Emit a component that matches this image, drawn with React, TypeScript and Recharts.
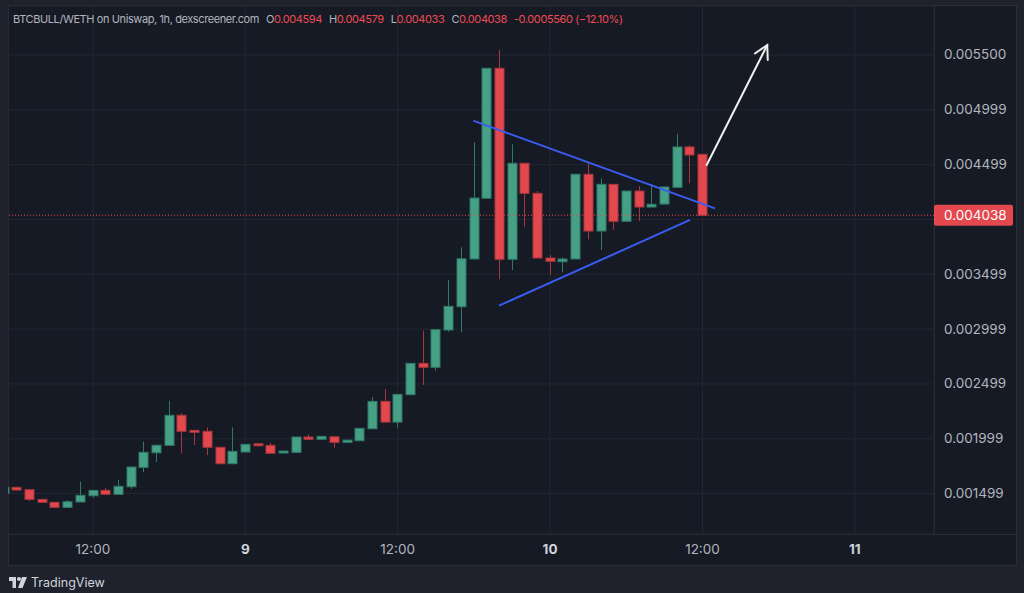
import React from 'react';
import { ComposedChart, Bar, XAxis, YAxis, CartesianGrid, ReferenceLine } from 'recharts';

// hour index, 0 = 06:00 on the 8th
const hours = [
  -1, 0, 1, 2, 3, 4, 5, 6, 7, 8, 9, 10, 11, 12, 13, 14, 15, 16, 17, 18, 19, 20, 21, 22, 23, 24, 25, 26, 27,
  28, 29, 30, 31, 32, 33, 34, 35, 36, 37, 38, 39, 40, 41, 42, 43, 44, 45, 46, 47, 48, 49, 50, 51, 52, 53, 54,
];
const opens = [
  0.001501, 0.001556, 0.001534, 0.001446, 0.001419, 0.001373, 0.001422, 0.001479, 0.001528, 0.001492, 0.001561,
  0.001738, 0.001871, 0.001939, 0.002213, 0.002076, 0.002067, 0.001921, 0.001771, 0.001878, 0.001953, 0.001939,
  0.001875, 0.001875, 0.002015, 0.001994, 0.002017, 0.001966, 0.001981, 0.00209, 0.00234, 0.002151, 0.002401,
  0.002687, 0.002651, 0.002991, 0.003203, 0.003639, 0.004193, 0.005379, 0.003636, 0.004512, 0.004238, 0.003648,
  0.003614, 0.003639, 0.004412, 0.003894, 0.00432, 0.003983, 0.004259, 0.004113, 0.00414, 0.004293, 0.004661,
  0.004594,
];
const highs = [
  0.001556, 0.001561, 0.001534, 0.001446, 0.001419, 0.00144, 0.001607, 0.001528, 0.001552, 0.001622, 0.001741,
  0.001972, 0.00194, 0.002346, 0.002231, 0.002076, 0.002103, 0.001921, 0.002103, 0.001948, 0.001953, 0.001963,
  0.001887, 0.002015, 0.002039, 0.002021, 0.002017, 0.001987, 0.002094, 0.00238, 0.002453, 0.002404, 0.002687,
  0.002985, 0.002994, 0.003447, 0.003745, 0.004703, 0.005379, 0.005546, 0.004685, 0.004512, 0.004259, 0.003675,
  0.003654, 0.004412, 0.004521, 0.004375, 0.00432, 0.004259, 0.004305, 0.004323, 0.004296, 0.004779, 0.004676,
  0.004594,
];
const lows = [
  0.001501, 0.001527, 0.001431, 0.001419, 0.001369, 0.001371, 0.001422, 0.001461, 0.001492, 0.001492, 0.00154,
  0.001693, 0.001787, 0.001939, 0.001866, 0.001942, 0.00185, 0.001771, 0.001771, 0.001878, 0.00194, 0.001866,
  0.001875, 0.001875, 0.001994, 0.001994, 0.001917, 0.001966, 0.001981, 0.00209, 0.002151, 0.002101, 0.002401,
  0.002489, 0.00262, 0.002975, 0.00297, 0.003639, 0.004193, 0.003453, 0.003538, 0.003933, 0.003648, 0.003495,
  0.003517, 0.003639, 0.003818, 0.003721, 0.003903, 0.003983, 0.003985, 0.004113, 0.00414, 0.004293, 0.004329,
  0.004033,
];
const closes = [
  0.001556, 0.001531, 0.001446, 0.001419, 0.001373, 0.001424, 0.001483, 0.001528, 0.001492, 0.001565, 0.001741,
  0.001875, 0.00194, 0.002213, 0.002067, 0.002063, 0.001921, 0.001771, 0.001884, 0.001948, 0.00194, 0.001866,
  0.001887, 0.002015, 0.001994, 0.002021, 0.001966, 0.001987, 0.002094, 0.00234, 0.002151, 0.002404, 0.002687,
  0.002651, 0.002994, 0.003207, 0.003641, 0.004195, 0.005379, 0.003636, 0.004512, 0.004238, 0.003648, 0.003618,
  0.003639, 0.004412, 0.003894, 0.00432, 0.003983, 0.004259, 0.004113, 0.004138, 0.004296, 0.004661, 0.004588,
  0.004038,
];

const timeTicks = [6, 18, 30, 42, 54, 66];
const timeLabels = ['12:00', '9', '12:00', '10', '12:00', '11'];
const priceTicks = [0.001499, 0.001999, 0.002499, 0.002999, 0.003499, 0.003999, 0.004499, 0.004999, 0.0055];
const lastPrice = 0.004038;

// drawings, in (hour, price)
const upperTrend = [{ x: 35.95, y: 0.004901 }, { x: 54.98, y: 0.004101 }];
const lowerTrend = [{ x: 37.98, y: 0.003213 }, { x: 53.02, y: 0.003995 }];
const arrowPath = [{ x: 54.33, y: 0.004496 }, { x: 59.1, y: 0.005591 }];

const data = hours.map((t, i) => ({ t, open: opens[i], high: highs[i], low: lows[i], close: closes[i] }));

const UP = '#45a085';
const UP_DARK = '#2f7a66';
const DOWN = '#e2484e';
const DOWN_DARK = '#a8363c';
const FONT = 'Inter, "Noto Sans", sans-serif';

const Candle = (props: any) => {
  const { x, y, width, height, payload } = props;
  const { open, close, high, low } = payload;
  const up = close >= open;
  const span = high - low;
  const py = (v: number) => (span > 0 ? y + (height * (high - v)) / span : y);
  const cx = Math.round(x + width / 2) + 0.5;
  const top = py(Math.max(open, close));
  const bot = py(Math.min(open, close));
  const bodyH = Math.max(bot - top, 2);
  return (
    <g>
      <line x1={cx} x2={cx} y1={y} y2={y + height} stroke={up ? UP_DARK : DOWN_DARK} strokeWidth={1} />
      <rect
        x={cx - 4.5}
        y={top}
        width={9}
        height={bodyH}
        fill={up ? UP : DOWN}
        stroke={up ? UP_DARK : DOWN_DARK}
        strokeWidth={1}
      />
    </g>
  );
};

const PriceTick = (props: any) => {
  const { x, y, payload } = props;
  if (payload.value === 0.003999) return null;
  return (
    <text x={x} y={y} dy={4.5} fill="#b2b5be" fontSize={13.5} fontFamily={FONT} textAnchor="start">
      {payload.value.toFixed(6)}
    </text>
  );
};

const TimeTick = (props: any) => {
  const { x, y, payload } = props;
  const label = timeLabels[timeTicks.indexOf(payload.value)];
  const isDay = label.indexOf(':') < 0;
  return (
    <text
      x={x}
      y={y}
      dy={12}
      fill={isDay ? '#d1d4dc' : '#b2b5be'}
      fontWeight={isDay ? 700 : 400}
      fontSize={13.5}
      fontFamily={FONT}
      textAnchor="middle"
    >
      {label}
    </text>
  );
};

const PriceLabel = (props: any) => {
  const { viewBox } = props;
  const x = viewBox.x + viewBox.width;
  const y = viewBox.y;
  return (
    <g>
      <rect x={x} y={y - 10.5} width={79} height={21} rx={2} fill={DOWN} />
      <text x={x + 10} y={y + 5} fill="#ffffff" fontSize={13.5} fontFamily={FONT}>
        {lastPrice.toFixed(6)}
      </text>
    </g>
  );
};

const ArrowShape = (props: any) => {
  const { x1, y1, x2, y2 } = props;
  const ang = Math.atan2(y2 - y1, x2 - x1);
  const len = 15;
  const spread = 0.5;
  const ax = x2 - len * Math.cos(ang - spread);
  const ay = y2 - len * Math.sin(ang - spread);
  const bx = x2 - len * Math.cos(ang + spread);
  const by = y2 - len * Math.sin(ang + spread);
  return (
    <g stroke="#f0f0f0" strokeWidth={2} fill="none" strokeLinecap="round">
      <line x1={x1} y1={y1} x2={x2} y2={y2} />
      <polyline points={`${ax},${ay} ${x2},${y2} ${bx},${by}`} />
    </g>
  );
};

const grey = '#b2b5be';
const red = '#ef4a51';

export default function App() {
  return (
    <div style={{ position: 'absolute', left: 0, top: 0, width: 1024, height: 593, background: '#1f222d', overflow: 'hidden' }}>
      <div
        style={{
          position: 'absolute',
          left: 8,
          top: 5,
          width: 1009,
          height: 561,
          background: '#161a25',
          border: '1px solid #2a2e39',
          boxSizing: 'border-box',
        }}
      />
      <div style={{ position: 'absolute', left: 9, top: 534, width: 1007, height: 1, background: '#2a2e39' }} />
      <div style={{ position: 'absolute', left: 934, top: 6, width: 1, height: 528, background: '#2a2e39' }} />
      <ComposedChart
        width={1024}
        height={593}
        data={data}
        margin={{ top: 6, left: 8, right: 7, bottom: 27 }}
        style={{ position: 'absolute', left: 0, top: 0 }}
      >
        <CartesianGrid stroke="#232733" strokeWidth={1} />
        <XAxis
          type="number"
          dataKey="t"
          domain={[-0.685, 72.23]}
          allowDataOverflow
          ticks={timeTicks}
          tick={<TimeTick />}
          tickLine={false}
          axisLine={false}
          height={32}
        />
        <YAxis
          orientation="right"
          domain={[0.00113, 0.005947]}
          allowDataOverflow
          ticks={priceTicks}
          tick={<PriceTick />}
          tickLine={false}
          axisLine={false}
          tickMargin={4}
          width={83}
        />
        <ReferenceLine y={lastPrice} stroke={DOWN} strokeDasharray="1 2" label={<PriceLabel />} />
        <Bar
          dataKey={(d: any) => [d.low, d.high]}
          barSize={10}
          shape={<Candle />}
          isAnimationActive={false}
        />
        <ReferenceLine segment={upperTrend} stroke="#3a5cf0" strokeWidth={2} ifOverflow="visible" />
        <ReferenceLine segment={lowerTrend} stroke="#3a5cf0" strokeWidth={2} ifOverflow="visible" />
        <ReferenceLine segment={arrowPath} shape={<ArrowShape />} ifOverflow="visible" />
      </ComposedChart>
      <div
        style={{
          position: 'absolute',
          left: 13,
          top: 12,
          display: 'flex',
          gap: 7,
          fontSize: 11,
          letterSpacing: -0.4,
          fontFamily: FONT,
          whiteSpace: 'nowrap',
          color: grey,
        }}
      >
        <span>BTCBULL/WETH on Uniswap, 1h, dexscreener.com</span>
        <span>
          O<span style={{ color: red }}>0.004594</span>
        </span>
        <span>
          H<span style={{ color: red }}>0.004579</span>
        </span>
        <span>
          L<span style={{ color: red }}>0.004033</span>
        </span>
        <span>
          C<span style={{ color: red }}>0.004038</span>
        </span>
        <span style={{ color: red }}>-0.0005560 (−12.10%)</span>
      </div>
      <svg width={20} height={12} style={{ position: 'absolute', left: 9, top: 577 }}>
        <path d="M0 0 H7 V11 H3.5 V4 H0 Z" fill="#d1d4dc" />
        <circle cx={10} cy={2} r={2} fill="#d1d4dc" />
        <path d="M13 0 H18 L13.5 11 H9 Z" fill="#d1d4dc" />
      </svg>
      <span style={{ position: 'absolute', left: 31, top: 575, fontSize: 12.5, color: '#d1d4dc', fontFamily: FONT }}>
        TradingView
      </span>
    </div>
  );
}
